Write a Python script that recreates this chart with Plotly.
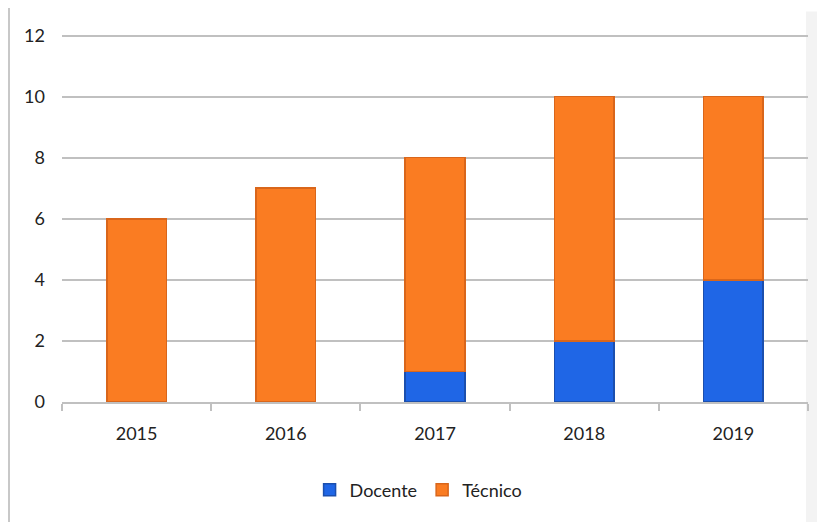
import plotly.graph_objects as go

years = ["2015", "2016", "2017", "2018", "2019"]
docente = [0, 0, 1, 2, 4]
tecnico = [6, 7, 7, 8, 6]
y_ticks = [0, 2, 4, 6, 8, 10, 12]

# page body has an 8px offset; work in screenshot coordinates
OFF = 8
W, H = 825 - OFF, 522 - OFF
plot_left, plot_right, plot_bottom = 62, 808, 402
ymax = 12.05
unit = 366 / 12.0
plot_top = plot_bottom - unit * ymax
L = plot_left - OFF
R = W - (plot_right - OFF)
T = plot_top - OFF
B = H - (plot_bottom - OFF)
pw = plot_right - plot_left
ph = plot_bottom - plot_top

fig = go.Figure()
fig.add_trace(go.Bar(x=years, y=docente, name="Docente",
                     marker=dict(color="#1f66e6", line=dict(color="#1b4fae", width=1.5))))
fig.add_trace(go.Bar(x=years, y=tecnico, name="Técnico",
                     marker=dict(color="#fa7c22", line=dict(color="#d9661b", width=1.5))))

def px_x(p):
    return (p - plot_left) / pw

def px_y(p):
    return (plot_bottom - p) / ph

shapes = [
    dict(type="rect", xref="paper", yref="paper", x0=px_x(806), x1=px_x(840),
         y0=px_y(12), y1=px_y(540), fillcolor="#f3f3f3", line=dict(width=0), layer="below"),
    dict(type="line", xref="paper", yref="paper", x0=px_x(9), x1=px_x(9),
         y0=px_y(8), y1=px_y(540), line=dict(color="#c8c8c8", width=2)),
]

fig.update_layout(
    width=W, height=H,
    margin=dict(l=L, r=R, t=T, b=B, autoexpand=False),
    plot_bgcolor="white", paper_bgcolor="white",
    barmode="stack", bargap=0.6,
    font=dict(family="Lato, Open Sans, sans-serif", size=18, color="#222222"),
    legend=dict(orientation="h", x=0.478, xanchor="center", y=px_y(490), yanchor="middle",
                font=dict(size=18), traceorder="normal"),
    shapes=shapes,
    xaxis=dict(type="category", showgrid=False, showline=True, linecolor="#c0c0c0", linewidth=2,
               ticks="outside", tickson="boundaries", ticklen=7, tickcolor="#c0c0c0", tickwidth=2,
               ticklabelstandoff=14),
    yaxis=dict(range=[0, ymax], tickvals=y_ticks, showgrid=True, gridcolor="#c0c0c0", gridwidth=2,
               zeroline=False, showline=False, ticks="", ticklabelstandoff=16),
)

fig.write_html("out.html")
